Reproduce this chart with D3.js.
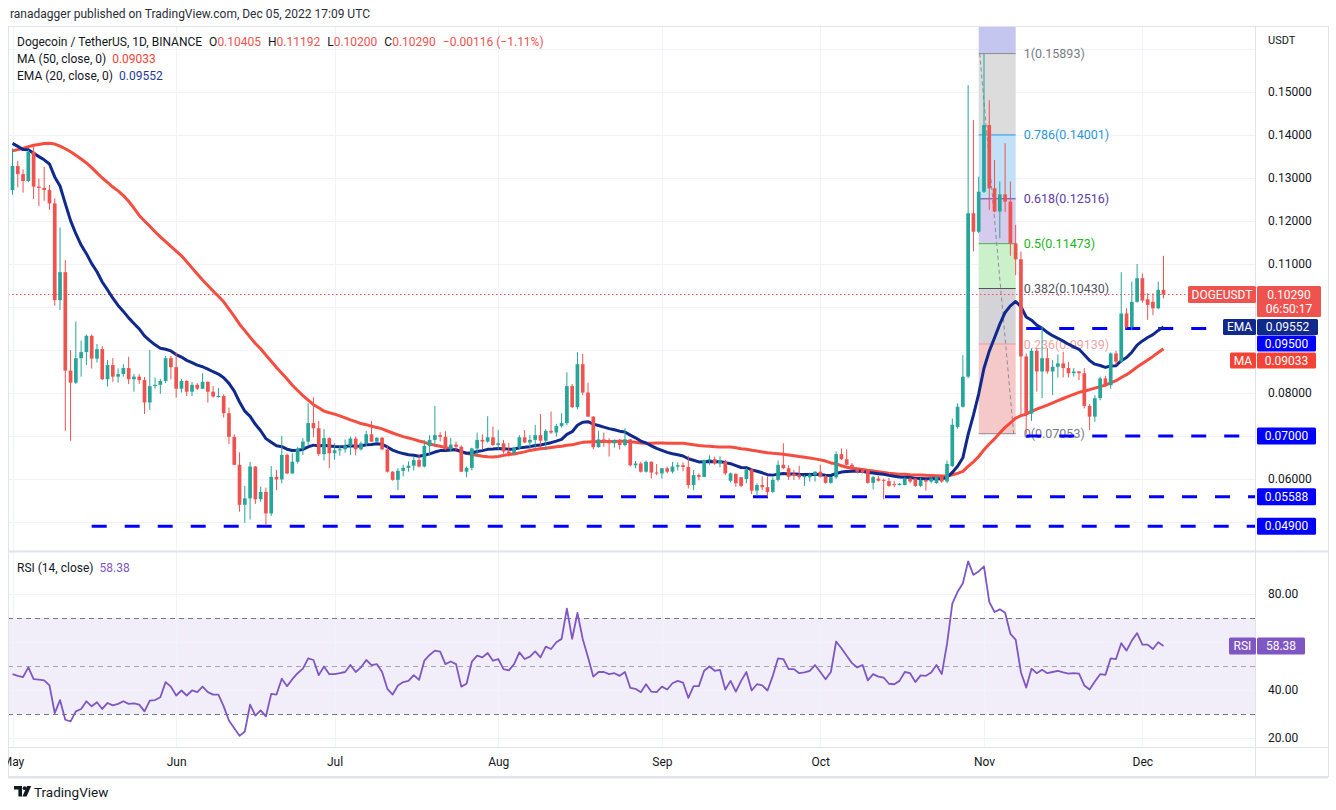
<!DOCTYPE html>
<html>
<head>
<meta charset="utf-8">
<title>Dogecoin / TetherUS</title>
<script src="https://cdn.jsdelivr.net/npm/d3@7"></script>
<style>
html,body{margin:0;padding:0;background:#ffffff;}
svg{display:block;}
text{font-family:Roboto,"Noto Sans","DejaVu Sans",sans-serif;}
</style>
</head>
<body>
<svg id="chart" width="1336" height="810"></svg>
<script>
// ---------------- DATA ----------------
const firstDay = "2022-05-01";   // daily candles, DOGE/USDT Binance
const opens = [
.1272,.1328,.1309,.1293,.1361,.1280,.1277,.1272,.1241,.1016,
.1081,.0852,.0824,.0881,.0895,.0933,.0880,.0902,.0832,.0865,
.0838,.0844,.0858,.0832,.0838,.0830,.0778,.0816,.0819,.0828,
.0881,.0860,.0810,.0828,.0803,.0819,.0810,.0826,.0803,.0792,
.0793,.0753,.0698,.0633,.0540,.0555,.0629,.0553,.0570,.0520,
.0605,.0599,.0656,.0613,.0640,.0671,.0687,.0730,.0718,.0658,
.0695,.0660,.0667,.0669,.0677,.0694,.0669,.0683,.0704,.0687,
.0696,.0669,.0617,.0598,.0619,.0626,.0631,.0644,.0629,.0677,
.0691,.0702,.0698,.0669,.0680,.0675,.0617,.0626,.0671,.0691,
.0687,.0697,.0679,.0683,.0664,.0660,.0673,.0697,.0685,.0691,
.0702,.0689,.0712,.0708,.0723,.0730,.0816,.0767,.0867,.0801,
.0745,.0674,.0692,.0687,.0683,.0691,.0679,.0692,.0632,.0636,
.0617,.0640,.0615,.0613,.0625,.0617,.0629,.0632,.0628,.0586,
.0609,.0605,.0644,.0646,.0636,.0640,.0596,.0612,.0604,.0600,
.0622,.0573,.0586,.0581,.0570,.0598,.0633,.0625,.0612,.0610,
.0604,.0604,.0609,.0617,.0606,.0591,.0604,.0658,.0646,.0633,
.0623,.0621,.0620,.0591,.0601,.0598,.0595,.0588,.0586,.0586,
.0601,.0601,.0584,.0598,.0594,.0591,.0605,.0594,.0630,.0721,
.0768,.0838,.1218,.1175,.1268,.1423,.1276,.1222,.1262,.1245,
.1148,.1111,.0885,.0752,.0898,.0850,.0881,.0850,.0861,.0869,
.0858,.0846,.0850,.0846,.0770,.0745,.0788,.0834,.0818,.0892,
.0873,.0985,.0953,.1012,.1067,.1018,.1012,.0997,.1040];
const highs = [
.1369,.1340,.1320,.1365,.1373,.1299,.1326,.1284,.1253,.1185,
.1109,.0900,.0966,.0922,.0936,.0936,.0914,.0909,.0877,.0881,
.0857,.0867,.0884,.0844,.0844,.0837,.0900,.0836,.0833,.0886,
.0886,.0894,.0833,.0830,.0826,.0823,.0846,.0827,.0816,.0812,
.0797,.0766,.0704,.0662,.0584,.0640,.0630,.0582,.0580,.0630,
.0621,.0700,.0659,.0660,.0675,.0695,.0776,.0790,.0735,.0716,
.0697,.0683,.0679,.0692,.0699,.0699,.0687,.0712,.0735,.0697,
.0697,.0676,.0618,.0625,.0633,.0641,.0652,.0656,.0691,.0702,
.0770,.0709,.0711,.0696,.0687,.0678,.0629,.0673,.0708,.0704,
.0746,.0722,.0714,.0691,.0684,.0675,.0702,.0714,.0702,.0726,
.0751,.0716,.0757,.0728,.0753,.0848,.0821,.0895,.0891,.0824,
.0746,.0712,.0708,.0695,.0692,.0693,.0718,.0693,.0642,.0640,
.0643,.0641,.0635,.0626,.0629,.0640,.0639,.0639,.0654,.0621,
.0613,.0645,.0655,.0652,.0653,.0645,.0615,.0613,.0605,.0625,
.0625,.0590,.0606,.0606,.0604,.0643,.0683,.0632,.0621,.0631,
.0609,.0615,.0618,.0633,.0609,.0605,.0664,.0671,.0669,.0637,
.0625,.0623,.0621,.0607,.0607,.0601,.0603,.0596,.0590,.0604,
.0604,.0602,.0603,.0599,.0605,.0606,.0609,.0643,.0741,.0776,
.0888,.1516,.1435,.1303,.1589,.1481,.1342,.1292,.1381,.1292,
.1191,.1129,.0892,.0904,.0904,.0954,.0905,.0877,.0890,.0896,
.0872,.0858,.0851,.0858,.0774,.0795,.0838,.0840,.0894,.0898,
.1081,.0997,.1059,.1100,.1078,.1032,.1032,.1059,.1119];
const lows = [
.1261,.1278,.1266,.1290,.1251,.1235,.1247,.1226,.1003,.0993,
.0712,.0689,.0821,.0838,.0865,.0857,.0871,.0830,.0815,.0826,
.0824,.0838,.0821,.0803,.0821,.0751,.0761,.0810,.0798,.0823,
.0832,.0789,.0801,.0793,.0793,.0807,.0809,.0778,.0789,.0789,
.0743,.0681,.0632,.0524,.0498,.0506,.0542,.0547,.0492,.0514,
.0574,.0590,.0611,.0612,.0636,.0656,.0679,.0697,.0654,.0643,
.0625,.0645,.0654,.0661,.0656,.0655,.0666,.0677,.0686,.0686,
.0667,.0615,.0596,.0574,.0606,.0617,.0620,.0627,.0627,.0654,
.0677,.0687,.0667,.0664,.0667,.0616,.0604,.0620,.0652,.0669,
.0684,.0677,.0669,.0659,.0652,.0659,.0669,.0683,.0671,.0671,
.0667,.0667,.0705,.0699,.0720,.0725,.0765,.0762,.0795,.0744,
.0669,.0673,.0675,.0652,.0673,.0669,.0676,.0629,.0625,.0615,
.0615,.0601,.0609,.0601,.0613,.0613,.0620,.0618,.0578,.0574,
.0597,.0604,.0633,.0633,.0627,.0609,.0592,.0582,.0581,.0590,
.0565,.0561,.0574,.0559,.0568,.0594,.0623,.0598,.0598,.0599,
.0584,.0594,.0594,.0604,.0589,.0589,.0600,.0644,.0631,.0621,
.0613,.0613,.0589,.0576,.0594,.0553,.0582,.0581,.0585,.0585,
.0590,.0582,.0581,.0573,.0590,.0589,.0591,.0590,.0628,.0717,
.0766,.0834,.1129,.1172,.1265,.1226,.1220,.1160,.1221,.1119,
.1074,.0745,.0705,.0735,.0803,.0788,.0845,.0795,.0836,.0836,
.0836,.0838,.0830,.0764,.0714,.0733,.0783,.0814,.0810,.0865,
.0870,.0950,.0946,.1010,.1010,.0970,.0981,.0995,.1020];
const closes = [
.1328,.1309,.1293,.1361,.1280,.1277,.1272,.1241,.1016,.1081,
.0852,.0824,.0881,.0895,.0933,.0880,.0902,.0832,.0865,.0838,
.0844,.0858,.0832,.0838,.0830,.0778,.0816,.0819,.0828,.0881,
.0860,.0810,.0828,.0803,.0819,.0810,.0826,.0803,.0792,.0793,
.0753,.0698,.0633,.0540,.0555,.0629,.0553,.0570,.0520,.0605,
.0599,.0656,.0613,.0640,.0671,.0687,.0730,.0718,.0658,.0695,
.0660,.0667,.0669,.0677,.0694,.0669,.0683,.0704,.0687,.0696,
.0669,.0617,.0598,.0619,.0626,.0631,.0644,.0629,.0677,.0691,
.0702,.0698,.0669,.0680,.0675,.0617,.0626,.0671,.0691,.0687,
.0697,.0679,.0683,.0664,.0660,.0673,.0697,.0685,.0691,.0702,
.0689,.0712,.0708,.0723,.0730,.0816,.0767,.0867,.0801,.0745,
.0674,.0692,.0687,.0683,.0691,.0679,.0692,.0632,.0636,.0617,
.0640,.0615,.0613,.0625,.0617,.0629,.0632,.0628,.0586,.0609,
.0605,.0644,.0646,.0636,.0644,.0613,.0613,.0590,.0584,.0622,
.0573,.0586,.0581,.0570,.0598,.0633,.0625,.0605,.0608,.0604,
.0607,.0610,.0617,.0605,.0591,.0604,.0658,.0646,.0633,.0623,
.0617,.0615,.0591,.0604,.0596,.0597,.0584,.0586,.0589,.0601,
.0594,.0584,.0598,.0594,.0601,.0605,.0594,.0635,.0726,.0768,
.0838,.1218,.1175,.1268,.1423,.1276,.1222,.1262,.1245,.1148,
.1111,.0885,.0749,.0898,.0850,.0881,.0850,.0861,.0869,.0858,
.0846,.0850,.0846,.0770,.0745,.0788,.0834,.0818,.0892,.0873,
.0985,.0953,.1012,.1067,.1015,.1005,.0997,.1040,.1029];
// RSI(14, close)
const rsiValues = [
46.6,45.9,45.4,49.4,44.5,44.3,44.0,41.9,30.4,35.8,
27.6,26.9,31.1,32.1,35.3,33.2,34.9,32.1,34.6,33.6,
34.2,35.3,34.2,34.4,33.9,31.1,35.6,35.8,37.0,43.3,
41.4,37.7,39.8,37.7,39.8,39.1,41.4,39.1,38.1,38.1,
33.2,27.3,24.1,20.9,22.7,33.9,29.3,31.5,29.0,38.4,
38.1,44.7,41.6,44.5,47.0,48.9,53.2,52.5,46.2,49.8,
46.6,46.6,47.0,47.5,50.4,47.5,49.4,52.5,50.4,50.8,
47.5,40.5,38.1,41.9,43.3,43.8,46.2,44.2,52.2,54.6,
56.4,56.0,50.8,51.9,50.8,41.4,42.6,51.8,54.3,53.6,
55.4,52.2,52.9,48.7,48.2,50.8,55.7,52.9,53.9,56.1,
53.6,58.1,57.1,59.9,61.3,73.9,61.3,72.1,61.3,53.6,
45.6,47.5,47.5,46.6,47.0,45.9,47.5,40.9,40.5,39.1,
42.4,39.3,39.1,41.4,40.2,42.8,43.8,43.1,36.7,41.6,
41.6,48.0,49.8,48.0,48.4,40.2,43.8,39.3,43.8,47.5,
39.8,42.4,41.9,39.8,45.9,53.2,52.9,48.7,48.7,47.0,
47.3,48.0,50.4,47.5,44.5,47.5,60.2,57.4,54.3,51.2,
49.4,50.4,44.0,46.6,45.6,45.2,42.6,42.4,43.8,47.5,
47.0,43.3,46.1,45.9,47.3,50.4,46.6,59.2,76.0,80.9,
84.5,93.6,88.0,89.4,91.5,76.7,72.5,73.6,72.2,63.4,
61.0,47.3,41.0,48.9,47.0,48.4,47.0,47.5,48.0,47.3,
46.8,47.0,46.8,41.9,40.2,43.5,46.6,46.3,53.2,52.9,
59.5,56.4,60.6,63.7,58.9,58.9,57.1,59.9,58.38];
// MA(50) values for the first 49 days (their window starts before the visible range)
const ma50Head = [
.1363,.1366,.1369,.1373,.1376,.1378,.1380,.1381,.1379,.1374,
.1368,.1361,.1353,.1344,.1335,.1324,.1312,.1300,.1290,.1279,
.1270,.1259,.1246,.1230,.1213,.1200,.1188,.1175,.1163,.1152,
.1141,.1130,.1119,.1105,.1091,.1077,.1063,.1050,.1037,.1025,
.1012,.0995,.0978,.0960,.0945,.0930,.0915,.0903,.0888];
const emaPrev = 0.1386;      // EMA(20) value on the day before the first candle
const maLen = 50, emaLen = 20;

const priceTicks = [0.15, 0.14, 0.13, 0.12, 0.11, 0.08, 0.06];
const priceGrid = [0.05,0.06,0.07,0.08,0.09,0.10,0.11,0.12,0.13,0.14,0.15,0.16];
const rsiTicks = [80, 40, 20];
const rsiGrid = [20, 40, 60, 80];
const monthStarts = ["2022-05-01","2022-06-01","2022-07-01","2022-08-01","2022-09-01","2022-10-01","2022-11-01","2022-12-01"];

const fibHigh = 0.15893, fibLow = 0.07053;
const fibLevels = [1, 0.786, 0.618, 0.5, 0.382, 0.236, 0];
const fibFrom = "2022-10-31", fibTo = "2022-11-07";
const supports = [
  {level: 0.095,   from: "2022-11-09"},
  {level: 0.070,   from: "2022-11-09"},
  {level: 0.05588, from: "2022-06-29"},
  {level: 0.049,   from: "2022-05-16"}];

const header = {
  published: "ranadagger published on TradingView.com, Dec 05, 2022 17:09 UTC",
  symbol: "Dogecoin / TetherUS, 1D, BINANCE",
  o: "0.10405", h: "0.11192", l: "0.10200", c: "0.10290",
  change: "\u22120.00116 (\u22121.11%)",
  lastClose: 0.10290, countdown: "06:50:17",
  maValue: 0.09033, emaValue: 0.09552, rsiValue: 58.38, ticker: "DOGEUSDT"
};

// ---------------- DERIVED ----------------
const day0 = new Date(firstDay + "T00:00:00Z");
const dates = closes.map((_, i) => d3.utcDay.offset(day0, i));
const n = closes.length;
const k = 2 / (emaLen + 1);
const ema = [];
closes.reduce((prev, c) => { const e = prev + k * (c - prev); ema.push(e); return e; }, emaPrev);
const ma = closes.map((c, i) => i < maLen - 1 ? ma50Head[i] : d3.mean(closes.slice(i - maLen + 1, i + 1)));

// ---------------- LAYOUT ----------------
const L = 8, R = 1255, FR = 1328, PT = 26, PB = 551, RT = 552, RB = 747, AB = 776;
const GREEN = "#26a69a", RED = "#ef5350", TXT = "#131722", GRID = "#f0f3fa", BORDER = "#e0e3eb";
const EMAC = "#10298c", MAC = "#f44336", BLUE = "#0000ff", RSIC = "#7e57c2";

const svg = d3.select("#chart");
const x = d3.scaleUtc().domain([dates[0], dates[n - 1]]).range([12.5, 1163.5]);
const y = d3.scaleLinear().domain([0.05, 0.15]).range([522, 92]);
const yR = d3.scaleLinear().domain([20, 80]).range([738, 594]);
const months = monthStarts.map(s => new Date(s + "T00:00:00Z"));

const defs = svg.append("defs");
defs.append("clipPath").attr("id", "cp").append("rect").attr("x", L).attr("y", PT).attr("width", R - L).attr("height", PB - PT);
defs.append("clipPath").attr("id", "cr").append("rect").attr("x", L).attr("y", RT).attr("width", R - L).attr("height", RB - RT);
defs.append("clipPath").attr("id", "ct").append("rect").attr("x", L).attr("y", RB).attr("width", R - L).attr("height", AB - RB);

svg.append("rect").attr("width", 1336).attr("height", 810).attr("fill", "#fff");

// published line
svg.append("text").attr("x", 10).attr("y", 14).attr("dominant-baseline", "central")
  .attr("font-size", 12).attr("fill", "#2a2e39").text(header.published);

// ---------- price pane ----------
const pp = svg.append("g").attr("clip-path", "url(#cp)");
pp.selectAll("line.hg").data(priceGrid).join("line")
  .attr("x1", L).attr("x2", R).attr("y1", d => Math.round(y(d)) + 0.5).attr("y2", d => Math.round(y(d)) + 0.5)
  .attr("stroke", GRID);
pp.selectAll("line.vg").data(months).join("line")
  .attr("x1", d => Math.round(x(d)) + 0.5).attr("x2", d => Math.round(x(d)) + 0.5).attr("y1", PT).attr("y2", PB)
  .attr("stroke", GRID);

// Fibonacci retracement
const fx1 = x(new Date(fibFrom + "T00:00:00Z")), fx2 = x(new Date(fibTo + "T00:00:00Z"));
const fibVal = lv => fibLow + lv * (fibHigh - fibLow);
const fibFill = ["#c4c6ef", "#dcdcdc", "#c2e1f6", "#d4cbed", "#caf1ca", "#d3d3d8", "#f5c9c9"];
const fibLine = ["#8a8a8a", "#2196f3", "#673ab7", "#4caf50", "#555555", "#f39a9a", "#8a8a8a"];
const fibText = ["#787b86", "#2b96d8", "#5e3aa6", "#22b322", "#50535e", "#f0a3a3", "#787b86"];
pp.append("rect").attr("x", fx1).attr("width", fx2 - fx1).attr("y", PT).attr("height", y(fibVal(1)) - PT).attr("fill", fibFill[0]);
fibLevels.slice(0, -1).forEach((lv, j) => {
  const yt = y(fibVal(lv)), yb = y(fibVal(fibLevels[j + 1]));
  pp.append("rect").attr("x", fx1).attr("width", fx2 - fx1).attr("y", yt).attr("height", yb - yt).attr("fill", fibFill[j + 1]);
});
fibLevels.forEach((lv, j) => {
  const yy = y(fibVal(lv));
  pp.append("line").attr("x1", fx1).attr("x2", fx2).attr("y1", yy).attr("y2", yy).attr("stroke", fibLine[j]).attr("stroke-width", 1);
});
pp.append("line").attr("x1", fx1 + 1).attr("y1", y(fibHigh)).attr("x2", fx2 - 2).attr("y2", y(fibLow))
  .attr("stroke", "#8a8d96").attr("stroke-dasharray", "4,3");
fibLevels.forEach((lv, j) => {
  const v = fibVal(lv);
  pp.append("text").attr("x", fx2 + 8).attr("y", y(v)).attr("dominant-baseline", "central")
    .attr("font-size", 12.5).attr("fill", fibText[j]).text(`${lv}(${v.toFixed(5)})`);
});

// current price dotted line
pp.append("line").attr("x1", L).attr("x2", R).attr("y1", y(header.lastClose)).attr("y2", y(header.lastClose))
  .attr("stroke", RED).attr("stroke-dasharray", "1.5,2.5");

// support / resistance dashed lines
pp.selectAll("line.sup").data(supports).join("line")
  .attr("x1", d => x(new Date(d.from + "T00:00:00Z"))).attr("x2", R)
  .attr("y1", d => y(d.level)).attr("y2", d => y(d.level))
  .attr("stroke", BLUE).attr("stroke-width", 3).attr("stroke-dasharray", "15,18");

// moving averages
const lineGen = arr => d3.line().x((d, i) => x(dates[i])).y(d => y(d)).curve(d3.curveLinear)(arr);
pp.append("path").attr("d", lineGen(ma)).attr("fill", "none").attr("stroke", MAC).attr("stroke-width", 3).attr("stroke-opacity", 0.95).attr("stroke-linejoin", "round");
pp.append("path").attr("d", lineGen(ema)).attr("fill", "none").attr("stroke", EMAC).attr("stroke-width", 3).attr("stroke-linejoin", "round");

// candles
const step = x(dates[1]) - x(dates[0]);
const bw = step * 0.7;
const idx = d3.range(n);
const col = i => closes[i] >= opens[i] ? GREEN : RED;
pp.selectAll("line.wick").data(idx).join("line")
  .attr("x1", i => x(dates[i])).attr("x2", i => x(dates[i]))
  .attr("y1", i => y(highs[i])).attr("y2", i => y(lows[i]))
  .attr("stroke", col).attr("stroke-width", 1);
pp.selectAll("rect.body").data(idx).join("rect")
  .attr("x", i => x(dates[i]) - bw / 2).attr("width", bw)
  .attr("y", i => Math.min(y(opens[i]), y(closes[i])))
  .attr("height", i => Math.max(1, Math.abs(y(opens[i]) - y(closes[i]))))
  .attr("fill", col);

// legend
const lg = svg.append("g").attr("font-size", 12).attr("dominant-baseline", "central");
const l1 = lg.append("text").attr("y", 42);
l1.append("tspan").attr("x", 17).attr("fill", TXT).text(header.symbol);
[["O", header.o], ["H", header.h], ["L", header.l], ["C", header.c]].forEach(([a, v]) => {
  l1.append("tspan").attr("dx", 7).attr("fill", TXT).text(a);
  l1.append("tspan").attr("fill", RED).text(v);
});
l1.append("tspan").attr("dx", 7).attr("fill", RED).text(header.change);
const l2 = lg.append("text").attr("y", 59);
l2.append("tspan").attr("x", 17).attr("fill", TXT).text("MA (50, close, 0)");
l2.append("tspan").attr("dx", 6).attr("fill", MAC).text(header.maValue.toFixed(5));
const l3 = lg.append("text").attr("y", 76);
l3.append("tspan").attr("x", 17).attr("fill", TXT).text("EMA (20, close, 0)");
l3.append("tspan").attr("dx", 6).attr("fill", "#1e3a9c").text(header.emaValue.toFixed(5));

// ---------- RSI pane ----------
const rp = svg.append("g").attr("clip-path", "url(#cr)");
rp.append("rect").attr("x", L).attr("width", R - L).attr("y", yR(70)).attr("height", yR(30) - yR(70)).attr("fill", "rgba(126,87,194,0.1)");
rp.selectAll("line.rg").data(rsiGrid).join("line")
  .attr("x1", L).attr("x2", R).attr("y1", d => Math.round(yR(d)) + 0.5).attr("y2", d => Math.round(yR(d)) + 0.5).attr("stroke", GRID);
rp.selectAll("line.rvg").data(months).join("line")
  .attr("x1", d => Math.round(x(d)) + 0.5).attr("x2", d => Math.round(x(d)) + 0.5).attr("y1", RT).attr("y2", RB).attr("stroke", GRID);
[[70, "#787b86"], [50, "#a3a6af"], [30, "#787b86"]].forEach(([v, c]) => {
  rp.append("line").attr("x1", L).attr("x2", R).attr("y1", Math.round(yR(v)) + 0.5).attr("y2", Math.round(yR(v)) + 0.5)
    .attr("stroke", c).attr("stroke-dasharray", "5,4");
});
rp.append("path").attr("d", d3.line().x((d, i) => x(dates[i])).y(d => yR(d))(rsiValues))
  .attr("fill", "none").attr("stroke", RSIC).attr("stroke-width", 1.8).attr("stroke-linejoin", "round");
const rl = svg.append("text").attr("y", 568).attr("font-size", 12).attr("dominant-baseline", "central");
rl.append("tspan").attr("x", 17).attr("fill", TXT).text("RSI (14, close)");
rl.append("tspan").attr("dx", 6).attr("fill", RSIC).text(header.rsiValue.toFixed(2));

// ---------- frame ----------
svg.append("rect").attr("x", L + 0.5).attr("y", PT + 0.5).attr("width", FR - L).attr("height", AB - PT).attr("fill", "none").attr("stroke", BORDER);
svg.append("line").attr("x1", R + 0.5).attr("x2", R + 0.5).attr("y1", PT).attr("y2", AB).attr("stroke", BORDER);
svg.append("line").attr("x1", L).attr("x2", FR).attr("y1", PB + 0.5).attr("y2", PB + 0.5).attr("stroke", BORDER).attr("stroke-width", 2);
svg.append("line").attr("x1", L).attr("x2", FR).attr("y1", RB + 0.5).attr("y2", RB + 0.5).attr("stroke", BORDER);
svg.append("line").attr("x1", L).attr("x2", FR).attr("y1", AB + 1.5).attr("y2", AB + 1.5).attr("stroke", BORDER).attr("stroke-width", 2);

// ---------- axes ----------
const yAx = svg.append("g").attr("transform", "translate(1268,0)")
  .call(d3.axisRight(y).tickValues(priceTicks).tickFormat(d3.format(".5f")).tickSize(0).tickPadding(0));
yAx.select(".domain").remove();
yAx.selectAll("text").attr("fill", TXT).attr("font-size", 12).attr("font-family", null);
svg.append("text").attr("x", 1268).attr("y", 40).attr("dominant-baseline", "central").attr("font-size", 11).attr("fill", TXT).text("USDT");

const rAx = svg.append("g").attr("transform", "translate(1268,0)")
  .call(d3.axisRight(yR).tickValues(rsiTicks).tickFormat(d3.format(".2f")).tickSize(0).tickPadding(0));
rAx.select(".domain").remove();
rAx.selectAll("text").attr("fill", TXT).attr("font-size", 12).attr("font-family", null);

const tAx = svg.append("g").attr("clip-path", "url(#ct)").append("g").attr("transform", "translate(0,762)")
  .call(d3.axisBottom(x).tickValues(months).tickFormat(d3.utcFormat("%b")).tickSize(0).tickPadding(0));
tAx.select(".domain").remove();
tAx.selectAll("text").attr("fill", TXT).attr("font-size", 12).attr("dy", "0.32em").attr("font-family", null);

// ---------- price labels on the axis ----------
function tag(x0, yc, w, h, fill, lines) {
  const g = svg.append("g");
  g.append("rect").attr("x", x0).attr("y", yc - h / 2).attr("width", w).attr("height", h).attr("rx", 1.5).attr("fill", fill);
  lines.forEach((t, j) => {
    g.append("text").attr("x", x0 + w / 2).attr("y", yc - (lines.length - 1) * 7 + j * 14)
      .attr("text-anchor", "middle").attr("dominant-baseline", "central")
      .attr("font-size", 12).attr("fill", "#fff").text(t);
  });
}
const yPrice = y(header.lastClose);
tag(1188, yPrice, 68, 17, RED, [header.ticker]);
tag(1257, yPrice + 7, 64, 31, RED, [header.lastClose.toFixed(5), header.countdown]);
const yE = y(header.emaValue) + 0.8;
tag(1223, yE, 33, 16, EMAC, ["EMA"]);
tag(1257, yE, 61, 16, EMAC, [header.emaValue.toFixed(5)]);
tag(1257, y(supports[0].level) + 15, 59, 16, BLUE, [supports[0].level.toFixed(5)]);
const yM = y(header.maValue) + 12;
tag(1230, yM, 26, 16, MAC, ["MA"]);
tag(1257, yM, 59, 16, MAC, [header.maValue.toFixed(5)]);
supports.slice(1).forEach(s => tag(1257, y(s.level), 59, 17, BLUE, [s.level.toFixed(5)]));
const yRs = yR(header.rsiValue);
tag(1229, yRs, 27, 17, RSIC, ["RSI"]);
tag(1257, yRs, 48, 17, RSIC, [header.rsiValue.toFixed(2)]);

// ---------- footer logo ----------
const logo = svg.append("g").attr("fill", TXT);
logo.append("path").attr("d", "M14,786 h8 v10.5 h-3.6 v-7 h-4.4 z");
logo.append("circle").attr("cx", 24.6).attr("cy", 788.2).attr("r", 1.9);
logo.append("path").attr("d", "M27,786 h4.2 l-4.6,10.5 h-4.2 z");
svg.append("text").attr("x", 34).attr("y", 792).attr("dominant-baseline", "central").attr("font-size", 13.5).attr("fill", TXT).text("TradingView");
</script>
</body>
</html>
